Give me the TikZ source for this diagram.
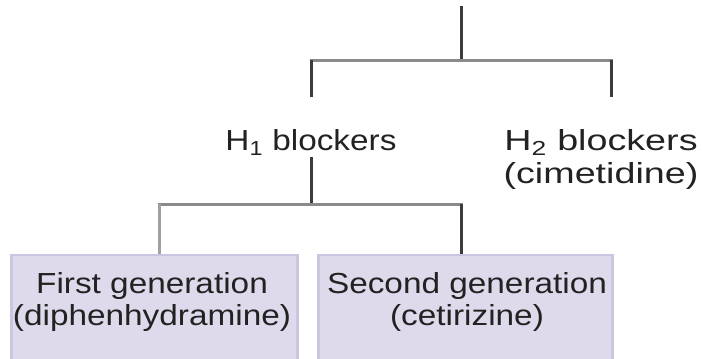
\documentclass[tikz,border=0pt]{standalone}
\usepackage{fontspec}
\setmainfont{Liberation Sans}[FakeStretch=1.15]
\newfontfamily\widefont{Liberation Sans}[FakeStretch=1.3]
\definecolor{dkline}{HTML}{3C3C3C}
\definecolor{hzline}{HTML}{8A8A8A}
\definecolor{ltline}{HTML}{A0A0A0}
\definecolor{boxfill}{HTML}{DEDAEC}
\definecolor{boxedge}{HTML}{CCC5E1}
\definecolor{txt}{HTML}{222222}
\begin{document}
\begin{tikzpicture}[x=1pt,y=-1pt,
  lbl/.style={text=txt, font=\fontsize{29}{32}\selectfont, inner sep=0pt, align=center},
  boxnode/.style={draw=boxedge, fill=boxfill, line width=2.5pt, inner sep=0pt},
  dk/.style={draw=dkline, line width=3pt},
  hz/.style={draw=hzline, line width=3pt},
  lt/.style={draw=ltline, line width=3pt}]
\useasboundingbox (0,0) rectangle (702,359);
% boxes (extend past the lower edge)
\node[boxnode, minimum width=286pt, minimum height=112pt] (b1) at (154.5,311) {};
\node[boxnode, minimum width=294pt, minimum height=112pt] (b2) at (465.5,311) {};
\node[lbl, anchor=base] (t1) at (152,325) {First generation\\(diphenhydramine)};
\node[lbl, anchor=base] (t2) at (467,325) {Second generation\\(cetirizine)};
% labels
\node[lbl, anchor=base] (h1) at (311,150) {H\textsubscript{1} blockers};
\node[lbl, anchor=base, font=\fontsize{29}{33}\selectfont\widefont] (h2) at (601,183) {H\textsubscript{2} blockers\\(cimetidine)};
% coordinates
\coordinate (top) at (461,6);
\coordinate (j1) at (461,60);
\coordinate (h1up) at (311,97);
\coordinate (h2up) at (611,97);
\coordinate (h1dn) at (311,157);
\coordinate (j2) at (311,204);
\coordinate (b1in) at ([xshift=4.5pt]b1.north);
\coordinate (b2in) at ([xshift=-4.5pt]b2.north);
% connectors
\draw[dk] (top) -- (j1);
\draw[hz] ([xshift=-1.5pt]h1up |- j1) -- ([xshift=1.5pt]h2up |- j1);
\draw[dk] (h1up |- j1) -- (h1up);
\draw[dk] (h2up |- j1) -- (h2up);
\draw[dk] (h1dn) -- (j2);
\draw[hz] ([xshift=-1.5pt]b1in |- j2) -- ([xshift=1.5pt]b2in |- j2);
\draw[lt] (b1in |- j2) -- (b1in);
\draw[dk] (b2in |- j2) -- (b2in);
\end{tikzpicture}
\end{document}
